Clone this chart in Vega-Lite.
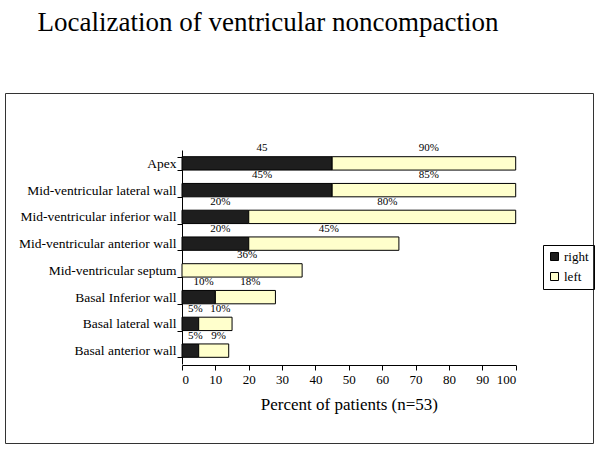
{
  "$schema": "https://vega.github.io/schema/vega-lite/v6.json",
  "width": 588,
  "height": 350,
  "autosize": {"type": "none"},
  "padding": {"left": 5, "top": 93, "right": 7, "bottom": 7},
  "background": "white",
  "title": {
    "text": "Localization of ventricular noncompaction",
    "font": "Liberation Serif",
    "fontSize": 27,
    "fontWeight": "normal",
    "color": "black",
    "anchor": "middle",
    "frame": "group",
    "dx": -31,
    "offset": 49
  },
  "config": {
    "view": {"stroke": "#333333", "strokeWidth": 1},
    "font": "Liberation Serif"
  },
  "data": {
    "values": [
      {"loc": "Apex", "series": "right", "order": 1, "value": 45, "label": "45"},
      {"loc": "Apex", "series": "left", "order": 2, "value": 55, "label": "90%"},
      {"loc": "Mid-ventricular lateral wall", "series": "right", "order": 1, "value": 45, "label": "45%"},
      {"loc": "Mid-ventricular lateral wall", "series": "left", "order": 2, "value": 55, "label": "85%"},
      {"loc": "Mid-ventricular inferior wall", "series": "right", "order": 1, "value": 20, "label": "20%"},
      {"loc": "Mid-ventricular inferior wall", "series": "left", "order": 2, "value": 80, "label": "80%"},
      {"loc": "Mid-ventricular anterior wall", "series": "right", "order": 1, "value": 20, "label": "20%"},
      {"loc": "Mid-ventricular anterior wall", "series": "left", "order": 2, "value": 45, "label": "45%"},
      {"loc": "Mid-ventricular septum", "series": "left", "order": 2, "value": 36, "label": "36%"},
      {"loc": "Basal Inferior wall", "series": "right", "order": 1, "value": 10, "label": "10%"},
      {"loc": "Basal Inferior wall", "series": "left", "order": 2, "value": 18, "label": "18%"},
      {"loc": "Basal lateral wall", "series": "right", "order": 1, "value": 5, "label": "5%"},
      {"loc": "Basal lateral wall", "series": "left", "order": 2, "value": 10, "label": "10%"},
      {"loc": "Basal anterior wall", "series": "right", "order": 1, "value": 5, "label": "5%"},
      {"loc": "Basal anterior wall", "series": "left", "order": 2, "value": 9, "label": "9%"}
    ]
  },
  "layer": [
    {
      "mark": {"type": "bar", "stroke": "black", "strokeWidth": 1},
      "encoding": {
        "x": {
          "field": "value",
          "type": "quantitative",
          "aggregate": "sum",
          "stack": "zero",
          "scale": {"domain": [0, 100], "range": [177, 510.7], "nice": false},
          "axis": {
            "orient": "bottom",
            "offset": -78,
            "values": [0, 10, 20, 30, 40, 50, 60, 70, 80, 90, 100],
            "grid": false,
            "domainColor": "black",
            "tickColor": "black",
            "tickSize": 5,
            "labelFont": "Liberation Serif",
            "labelFontSize": 13,
            "labelColor": "black",
            "labelPadding": 3,
            "title": "Percent of patients (n=53)",
            "titleFont": "Liberation Serif",
            "titleFontSize": 17,
            "titleFontWeight": "normal",
            "titleColor": "black",
            "titlePadding": 10
          }
        },
        "y": {
          "field": "loc",
          "type": "nominal",
          "sort": ["Apex", "Mid-ventricular lateral wall", "Mid-ventricular inferior wall", "Mid-ventricular anterior wall", "Mid-ventricular septum", "Basal Inferior wall", "Basal lateral wall", "Basal anterior wall"],
          "scale": {"range": [57, 271], "paddingInner": 0.5, "paddingOuter": 0.25},
          "axis": {
            "orient": "left",
            "offset": -177,
            "title": null,
            "domainColor": "black",
            "tickColor": "black",
            "tickBand": "extent",
            "tickSize": 5,
            "labelFont": "Liberation Serif",
            "labelFontSize": 13.5,
            "labelColor": "black",
            "labelPadding": 1
          }
        },
        "color": {
          "field": "series",
          "type": "nominal",
          "sort": ["right", "left"],
          "scale": {"domain": ["right", "left"], "range": ["#1e1e1e", "#ffffcc"]},
          "legend": {
            "orient": "none",
            "legendX": 538,
            "legendY": 152,
            "title": null,
            "strokeColor": "black",
            "padding": 5,
            "symbolType": "square",
            "symbolSize": 64,
            "symbolStrokeColor": "black",
            "symbolStrokeWidth": 1,
            "labelFont": "Liberation Serif",
            "labelFontSize": 13,
            "labelColor": "black",
            "rowPadding": 6,
            "labelOffset": 3
          }
        },
        "order": {"field": "order", "type": "quantitative"}
      }
    },
    {
      "transform": [
        {"stack": "value", "groupby": ["loc"], "sort": [{"field": "order"}], "as": ["v0", "v1"]},
        {"fold": ["v0", "v1"], "as": ["edge", "pos"]}
      ],
      "mark": {"type": "text", "font": "Liberation Serif", "fontSize": 11, "color": "black", "dy": -15, "dx": 5},
      "encoding": {
        "x": {
          "field": "pos",
          "type": "quantitative",
          "aggregate": "mean",
          "scale": {"domain": [0, 100], "range": [177, 510.7], "nice": false},
          "axis": {
            "orient": "bottom",
            "offset": -78,
            "title": "Percent of patients (n=53)"
          }
        },
        "y": {
          "field": "loc",
          "type": "nominal",
          "sort": ["Apex", "Mid-ventricular lateral wall", "Mid-ventricular inferior wall", "Mid-ventricular anterior wall", "Mid-ventricular septum", "Basal Inferior wall", "Basal lateral wall", "Basal anterior wall"]
        },
        "detail": {"field": "series", "type": "nominal"},
        "text": {"field": "label", "type": "nominal"}
      }
    }
  ]
}
